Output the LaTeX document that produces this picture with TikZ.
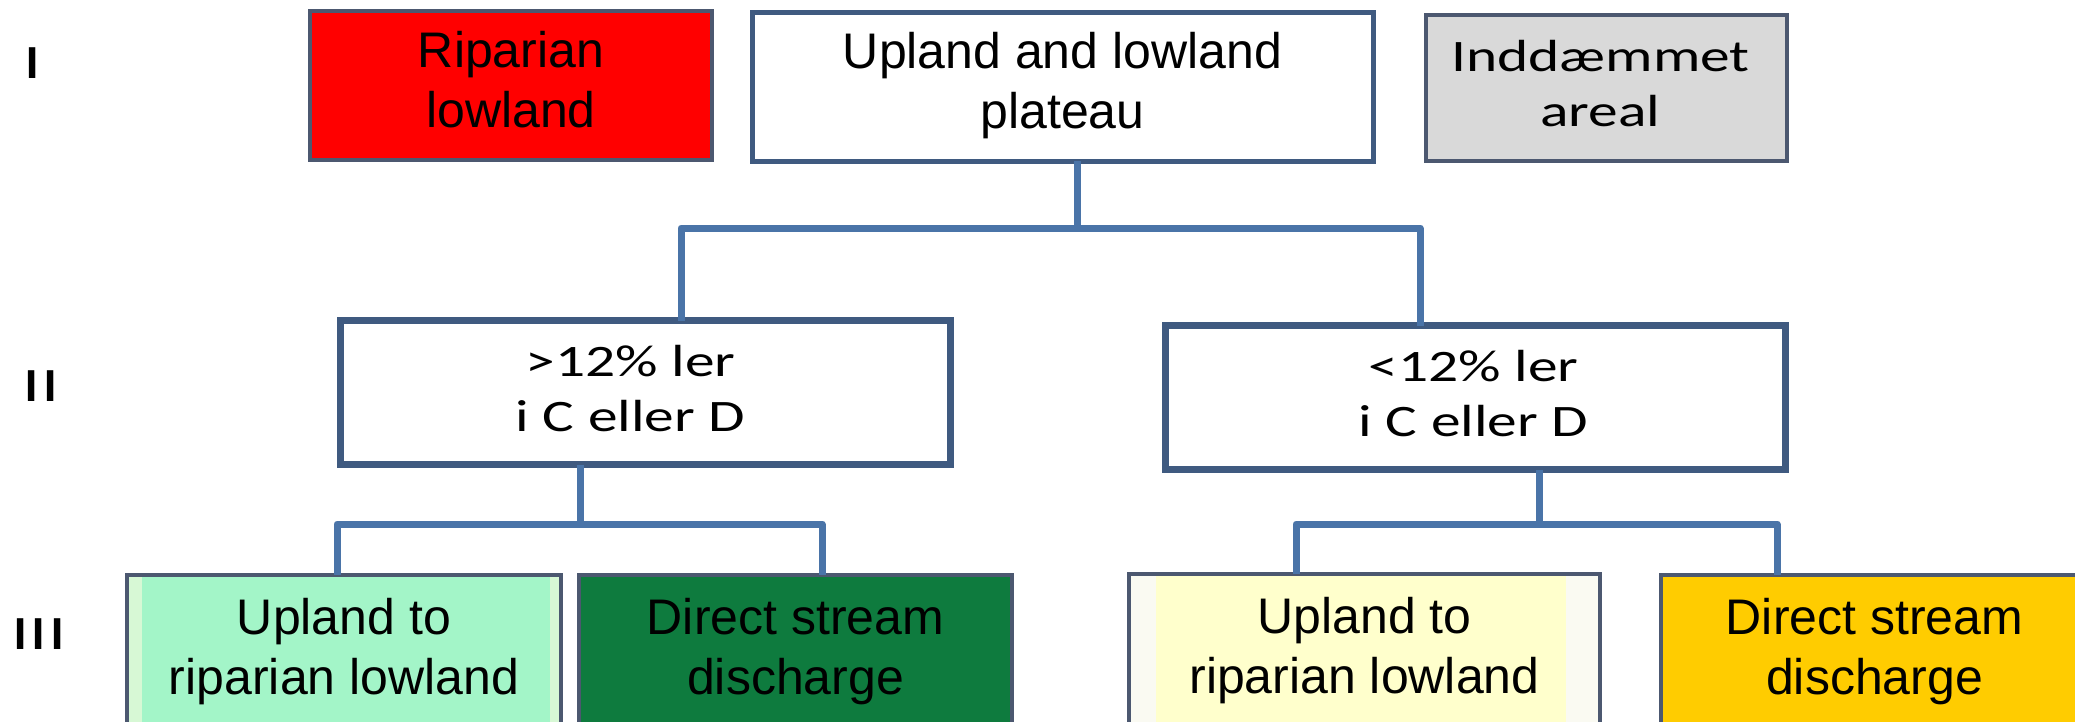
\documentclass[tikz,border=0pt]{standalone}
\usepackage{fontspec}
\usepackage{graphicx}
\setmainfont{Liberation Sans}
\newfontfamily\calfont{Carlito}
\definecolor{connblue}{HTML}{4A74A8}
\definecolor{boxedge}{HTML}{3F5A80}
\definecolor{slateedge}{HTML}{4C5870}
\definecolor{ripred}{HTML}{FF0000}
\definecolor{greyfill}{HTML}{D9D9D9}
\definecolor{mintfill}{HTML}{A3F5C8}
\definecolor{mintpale}{HTML}{D7F8D5}
\definecolor{darkgreen}{HTML}{0E7B3E}
\definecolor{lightyellow}{HTML}{FFFFCC}
\definecolor{yellowpale}{HTML}{FAFAF2}
\definecolor{gold}{HTML}{FFCC00}
\newcommand{\twol}[2]{\begin{tabular}{@{}c@{}}#1\\#2\end{tabular}}
\begin{document}
\begin{tikzpicture}[x=1pt,y=-1pt,
  box/.style={rectangle, inner sep=0pt, outer sep=0pt, line width=4pt, draw=slateedge},
  midbox/.style={rectangle, inner sep=0pt, outer sep=0pt, line width=7pt, draw=boxedge, fill=white},
  arialtxt/.style={font=\fontsize{50}{60}\selectfont},
  caltxt/.style={font=\calfont\fontsize{45}{55}\selectfont},
  numeral/.style={font=\calfont\fontsize{48}{55}\selectfont, inner sep=0pt},
  conn/.style={draw=connblue, line width=7pt, line join=round}]
\useasboundingbox (0,0) rectangle (2075,721);
\clip (0,0) rectangle (2075,721);
\fill[white] (0,0) rectangle (2075,721);

% level numerals
\node[numeral] (n1) at (33,63) {\scalebox{1.5}[1]{I}};
\node[numeral] (n2) at (41,386) {\scalebox{1.5}[1]{II}};
\node[numeral] (n3) at (39,634) {\scalebox{1.5}[1]{III}};

% row I
\node[box, draw=slateedge, fill=ripred, minimum width=402, minimum height=149, arialtxt]
  (rip) at (511,85.5) {\raisebox{-3pt}{\twol{Riparian}{lowland}}};
\node[box, draw=boxedge, line width=5pt, fill=white, minimum width=621, minimum height=149, arialtxt]
  (up) at (1062.5,86.5) {\raisebox{-3pt}{\twol{Upland and lowland}{plateau}}};
\node[box, draw=slateedge, fill=greyfill, minimum width=361, minimum height=146, caltxt]
  (ind) at (1606.5,88) {\hspace*{-12pt}\raisebox{3pt}{\scalebox{1.32}[1]{\twol{Inddæmmet}{areal}}}};

% row II
\node[midbox, minimum width=610, minimum height=144, caltxt]
  (iiL) at (645.5,392.5) {\hspace*{-30pt}\raisebox{1pt}{\scalebox{1.32}[1]{\twol{>12\% ler}{i C eller D}}}};
\node[midbox, minimum width=620, minimum height=144, caltxt]
  (iiR) at (1475.5,397.5) {\hspace*{-4pt}\raisebox{5pt}{\scalebox{1.32}[1]{\twol{<12\% ler}{i C eller D}}}};

% row III
\node[box, fill=mintfill, minimum width=434, minimum height=154, arialtxt,
  path picture={
    \fill[mintpale] (path picture bounding box.north west) rectangle ([xshift=15pt]path picture bounding box.south west);
    \fill[mintpale] ([xshift=-11pt]path picture bounding box.north east) rectangle (path picture bounding box.south east);}]
  (m1) at (344,652) {\twol{Upland to}{riparian lowland}};
\node[box, fill=darkgreen, minimum width=433, minimum height=154, arialtxt]
  (m2) at (795.5,652) {\twol{Direct stream}{discharge}};
\node[box, fill=lightyellow, minimum width=471, minimum height=154, arialtxt,
  path picture={
    \fill[yellowpale] (path picture bounding box.north west) rectangle ([xshift=27pt]path picture bounding box.south west);
    \fill[yellowpale] ([xshift=-34pt]path picture bounding box.north east) rectangle (path picture bounding box.south east);}]
  (m3) at (1364.5,651) {\twol{Upland to}{riparian lowland}};
\node[box, fill=gold, minimum width=427, minimum height=154, arialtxt]
  (m4) at (1874.5,652) {\twol{Direct stream}{discharge}};

% junctions
\coordinate (a) at (1077,228);
\coordinate (aL) at (681,228);
\coordinate (aR) at (1420,228);
\coordinate (b) at (580,524);
\coordinate (bL) at (337,524);
\coordinate (bR) at (822,524);
\coordinate (c) at (1539,524);
\coordinate (cL) at (1296,524);
\coordinate (cR) at (1777,524);

% connectors
\draw[conn] (up.south -| a) -- (a);
\draw[conn] (iiL.north -| aL) -- (aL) -- (aR) -- (iiR.north -| aR);
\draw[conn] (iiL.south -| b) -- (b);
\draw[conn] (m1.north -| bL) -- (bL) -- (bR) -- (m2.north -| bR);
\draw[conn] (iiR.south -| c) -- (c);
\draw[conn] (m3.north -| cL) -- (cL) -- (cR) -- (m4.north -| cR);
\end{tikzpicture}
\end{document}
